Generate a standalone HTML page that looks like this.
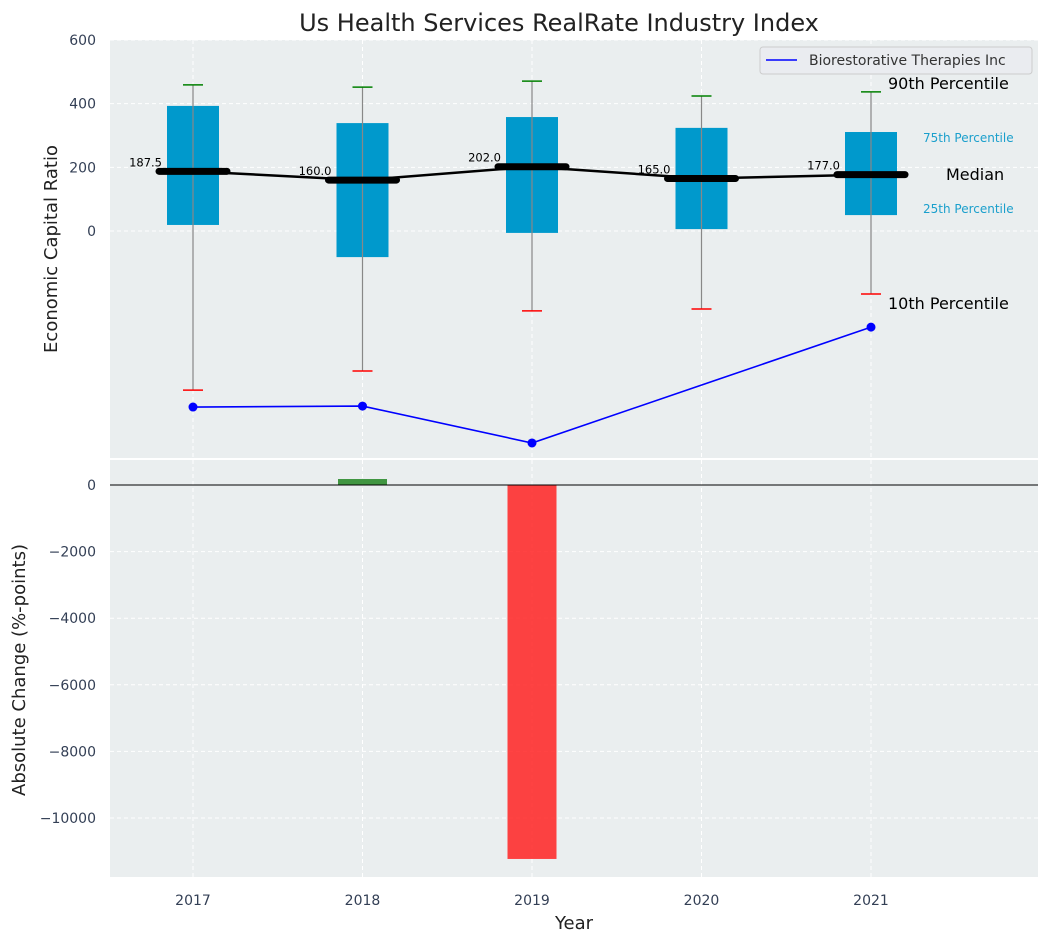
<!DOCTYPE html>
<html><head><meta charset="utf-8"><style>
body{margin:0;background:#fff;font-family:"Liberation Sans","DejaVu Sans",sans-serif}
svg text{font-family:"DejaVu Sans","Liberation Sans",sans-serif}
</style></head><body>
<svg id="c" width="1048" height="942" xmlns="http://www.w3.org/2000/svg">
<rect width="1048" height="942" fill="#fff"/>
<text x="559" y="31" text-anchor="middle" font-size="24" fill="#222">Us Health Services RealRate Industry Index</text>
<g id="topg"></g><g id="botg"></g>
</svg>
<script>
const years=["2017","2018","2019","2020","2021"];
const p10=[-500,-440,-251,-245,-198];
const p25=[19,-82,-6,6,50];
const medians=[187.5,160,202,165,177];
const p75=[393,339,358,324,311];
const p90=[459,452,471,424,437];
const company=[-553,-550,-666,null,-302];
const changes=[0,180,-11230,0,0];
const topTicks=[0,200,400,600];
const botTicks=[0,-2000,-4000,-6000,-8000,-10000];
const NS="http://www.w3.org/2000/svg";
const X0=110,X1=1038;
const xs=i=>193+i*169.5;
const yT=v=>231-v*0.3183;
const yB=v=>485-v*0.0333;
function el(p,t,a,txt){const e=document.createElementNS(NS,t);for(const k in a)e.setAttribute(k,a[k]);if(txt!=null)e.textContent=txt;p.appendChild(e);return e;}
const topG=document.getElementById('topg'),botG=document.getElementById('botg');
let r=el(topG,'rect',{x:X0,y:40,width:X1-X0,height:418,fill:'#eaeeef'});


r=el(botG,'rect',{x:X0,y:460,width:X1-X0,height:417,fill:'#eaeeef'});


years.forEach((y,i)=>{
 el(topG,'line',{x1:xs(i),x2:xs(i),y1:40,y2:458,stroke:'#fff','stroke-dasharray':'4,3'});
 el(botG,'line',{x1:xs(i),x2:xs(i),y1:460,y2:877,stroke:'#fff','stroke-dasharray':'4,3'});
 const t=el(botG,'text',{x:xs(i),y:905,'text-anchor':'middle','font-size':14,fill:'#333f55'},y);
 
 
});
topTicks.forEach(v=>{
 el(topG,'line',{x1:X0,x2:X1,y1:yT(v),y2:yT(v),stroke:'#fff','stroke-dasharray':'4,3'});
 const t=el(topG,'text',{x:96,y:yT(v)+5,'text-anchor':'end','font-size':14,fill:'#333f55'},v);
 
 
});
botTicks.forEach(v=>{
 el(botG,'line',{x1:X0,x2:X1,y1:yB(v),y2:yB(v),stroke:'#fff','stroke-dasharray':'4,3'});
 const t=el(botG,'text',{x:96,y:yB(v)+5,'text-anchor':'end','font-size':14,fill:'#333f55'},v<0?'\u2212'+(-v):v);
 
 
});
years.forEach((y,i)=>{
 const x=xs(i);
 const b=el(topG,'rect',{x:x-26,y:yT(p75[i]),width:52,height:yT(p25[i])-yT(p75[i]),fill:'#0099cc'});
 
 
 el(topG,'line',{x1:x,x2:x,y1:yT(p90[i]),y2:yT(p10[i]),stroke:'#888','stroke-width':1.2});
 el(topG,'line',{x1:x-10,x2:x+10,y1:yT(p90[i]),y2:yT(p90[i]),stroke:'green','stroke-width':1.5});
 el(topG,'line',{x1:x-10,x2:x+10,y1:yT(p10[i]),y2:yT(p10[i]),stroke:'red','stroke-width':1.5});
});
let d=medians.map((m,i)=>(i?'L':'M')+xs(i)+','+yT(m)).join('');
let ml=el(topG,'path',{d:d,stroke:'#000','stroke-width':2.5,fill:'none'});


medians.forEach((m,i)=>{
 const s=el(topG,'line',{x1:xs(i)-34,x2:xs(i)+34,y1:yT(m),y2:yT(m),stroke:'#000','stroke-width':7,'stroke-linecap':'round'});
 
 
 const t=el(topG,'text',{x:xs(i)-31,y:yT(m)-5,'text-anchor':'end','font-size':11.5,fill:'#000'},m.toFixed(1));
 
 
});
let pts=company.map((v,i)=>v==null?null:[xs(i),yT(v)]).filter(p=>p);
let cl=el(topG,'path',{d:pts.map((p,i)=>(i?'L':'M')+p[0]+','+p[1]).join(''),stroke:'blue','stroke-width':1.6,fill:'none'});


pts.forEach(p=>{const c=el(topG,'circle',{cx:p[0],cy:p[1],r:4.5,fill:'blue'});
 
 });
[['90th Percentile',888,89,16,'#000'],['75th Percentile',923,142,12,'#1a9fcc'],['Median',946,180,16,'#000'],['25th Percentile',923,213,12,'#1a9fcc'],['10th Percentile',888,309,16,'#000']].forEach(a=>{
 const t=el(topG,'text',{x:a[1],y:a[2],'font-size':a[3],fill:a[4]},a[0]);
 
 
});
const lg=el(topG,'g',{});


el(lg,'rect',{x:760,y:47,width:272,height:27,rx:3,fill:'#eaecf0',stroke:'#ccc'});
el(lg,'line',{x1:766,x2:797,y1:60,y2:60,stroke:'blue','stroke-width':1.6});
el(lg,'text',{x:809,y:65,'font-size':14,fill:'#333'},'Biorestorative Therapies Inc');
changes.forEach((v,i)=>{
 if(!v)return;
 const y0=yB(Math.max(v,0)),y1=yB(Math.min(v,0));
 const b=el(botG,'rect',{x:xs(i)-24.5,y:y0,width:49,height:y1-y0,fill:v>0?'#2e8b2e':'#ff2222','fill-opacity':v>0?0.9:0.85});
 
 
});
el(botG,'line',{x1:X0,x2:X1,y1:yB(0),y2:yB(0),stroke:'#000','stroke-width':1});
let t=el(topG,'text',{x:57,y:249,'text-anchor':'middle','font-size':18,fill:'#222',transform:'rotate(-90 57 249)'},'Economic Capital Ratio');

t=el(botG,'text',{x:25,y:670,'text-anchor':'middle','font-size':18,fill:'#222',transform:'rotate(-90 25 670)'},'Absolute Change (%-points)');

t=el(botG,'text',{x:574,y:929,'text-anchor':'middle','font-size':18,fill:'#222'},'Year');

</script>
</body></html>
